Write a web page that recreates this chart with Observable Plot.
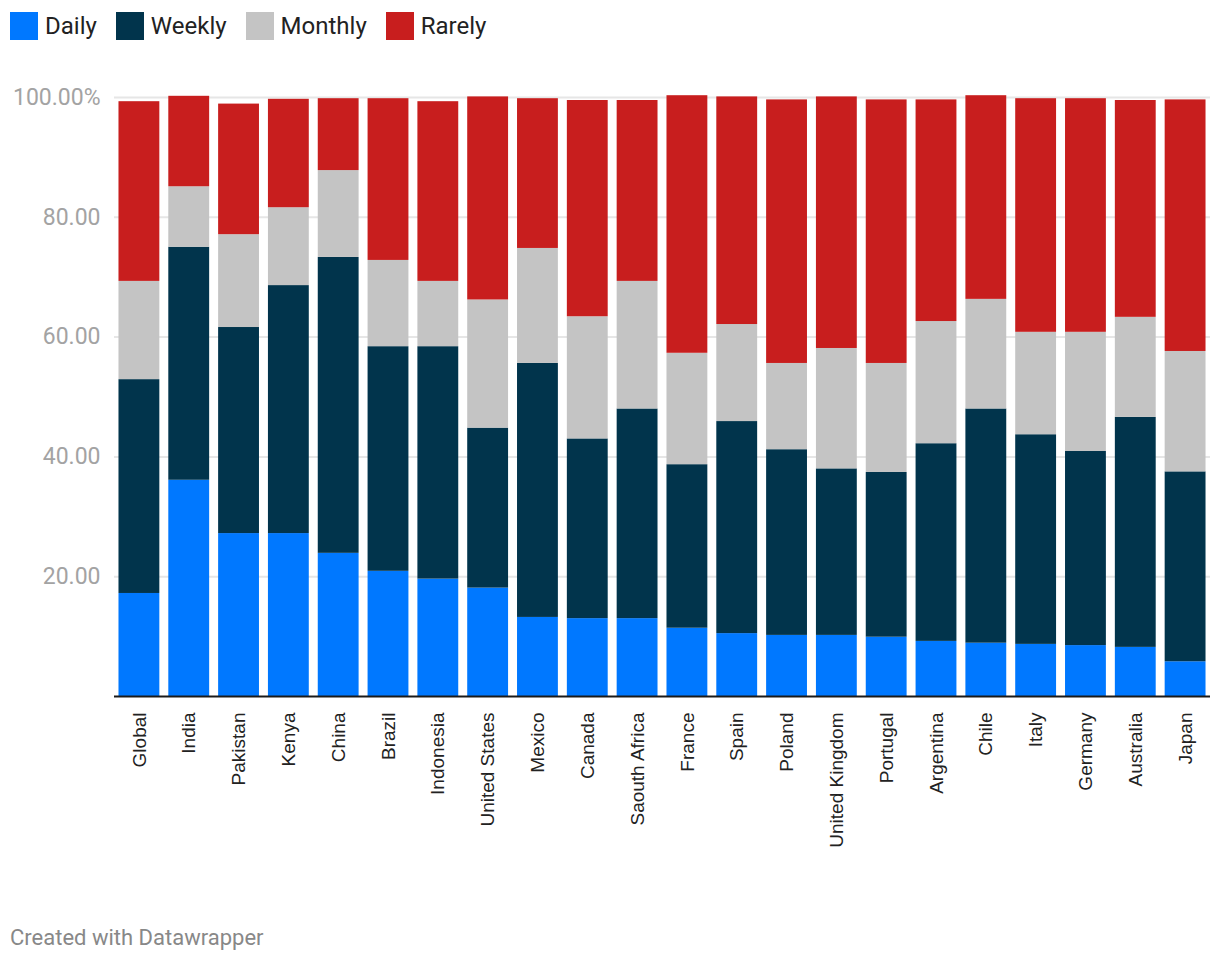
<!DOCTYPE html>
<html>
<head>
<meta charset="utf-8">
<script src="https://cdn.jsdelivr.net/npm/d3@7"></script>
<script src="https://cdn.jsdelivr.net/npm/@observablehq/plot@0.6"></script>
<style>
  html, body { margin: 0; padding: 0; background: #fff; }
  body { width: 1220px; height: 964px; position: relative; font-family: Roboto, "Noto Sans", sans-serif; }
  #legend { position: absolute; left: 10px; top: 12px; display: flex; align-items: center; font-size: 24px; color: #222; line-height: 28px; }
  #legend .item { display: flex; align-items: center; }
  #legend .sw { width: 28px; height: 28px; margin-right: 7px; }
  #chart { position: absolute; left: 0; top: 60px; }
  #footer { position: absolute; left: 10px; top: 925px; font-size: 22px; color: #888; }
</style>
</head>
<body>
<div id="legend"></div>
<div id="chart"></div>
<div id="footer">Created with Datawrapper</div>
<script>
const countries = ["Global","India","Pakistan","Kenya","China","Brazil","Indonesia","United States","Mexico","Canada","Saouth Africa","France","Spain","Poland","United Kingdom","Portugal","Argentina","Chile","Italy","Germany","Australia","Japan"];
const daily   = [17.2, 36.1, 27.2, 27.2, 23.9, 20.9, 19.6, 18.1, 13.2, 13.0, 13.0, 11.4, 10.5, 10.2, 10.2, 9.9, 9.2, 8.9, 8.7, 8.5, 8.2, 5.8];
const weekly  = [35.7, 38.9, 34.4, 41.4, 49.4, 37.5, 38.8, 26.7, 42.4, 30.0, 35.0, 27.3, 35.4, 31.0, 27.8, 27.5, 33.0, 39.1, 35.0, 32.4, 38.4, 31.7];
const monthly = [16.4, 10.1, 15.5, 13.0, 14.5, 14.4, 10.9, 21.4, 19.2, 20.4, 21.3, 18.6, 16.2, 14.4, 20.1, 18.2, 20.4, 18.3, 17.1, 19.9, 16.7, 20.1];
const rarely  = [30.0, 15.1, 21.8, 18.1, 12.0, 27.0, 30.0, 33.9, 25.0, 36.1, 30.2, 43.0, 38.0, 44.0, 42.0, 44.0, 37.0, 34.0, 39.0, 39.0, 36.2, 42.0];
const seriesNames = ["Daily","Weekly","Monthly","Rarely"];
const seriesColors = ["#0078ff","#01344c","#c4c4c4","#c81e1e"];
const yTicks = [20, 40, 60, 80, 100];

const seriesValues = [daily, weekly, monthly, rarely];
const data = [];
countries.forEach((c, i) => {
  seriesNames.forEach((s, j) => data.push({country: c, freq: s, value: seriesValues[j][i]}));
});

// Legend
const legend = document.getElementById("legend");
seriesNames.forEach((s, j) => {
  const item = document.createElement("div");
  item.className = "item";
  item.style.marginRight = j < 3 ? "19px" : "0";
  const sw = document.createElement("div");
  sw.className = "sw";
  sw.style.background = seriesColors[j];
  const t = document.createElement("span");
  t.textContent = s;
  item.appendChild(sw); item.appendChild(t);
  legend.appendChild(item);
});

const chart = Plot.plot({
  width: 1220,
  height: 860,
  marginTop: 37,
  marginLeft: 114,
  marginRight: 10,
  marginBottom: 224,
  style: {fontFamily: "Roboto, sans-serif", background: "#fff"},
  x: {domain: countries, paddingInner: 0.18, paddingOuter: 0.09, round: false, label: null},
  y: {domain: [0, 100], label: null},
  color: {domain: seriesNames, range: seriesColors},
  marks: [
    Plot.gridY(yTicks, {stroke: "#e6e6e6", strokeOpacity: 1, strokeWidth: 2}),
    Plot.barY(data, Plot.stackY({x: "country", y: "value", fill: "freq", order: seriesNames})),
    Plot.ruleY([0], {stroke: "#1a1a1a", strokeWidth: 2}),
    Plot.axisY(yTicks, {
      tickSize: 0, tickPadding: 14, fontSize: 23, fill: "#a3a3a3",
      tickFormat: d => d === 100 ? "100.00%" : d.toFixed(2), label: null
    }),
    Plot.axisX({
      tickSize: 0, tickPadding: 16, tickRotate: -90, fontSize: 19, fill: "#222",
      fontFamily: "'Liberation Sans', Arial, sans-serif", label: null
    })
  ]
});
document.getElementById("chart").appendChild(chart);
</script>
</body>
</html>
